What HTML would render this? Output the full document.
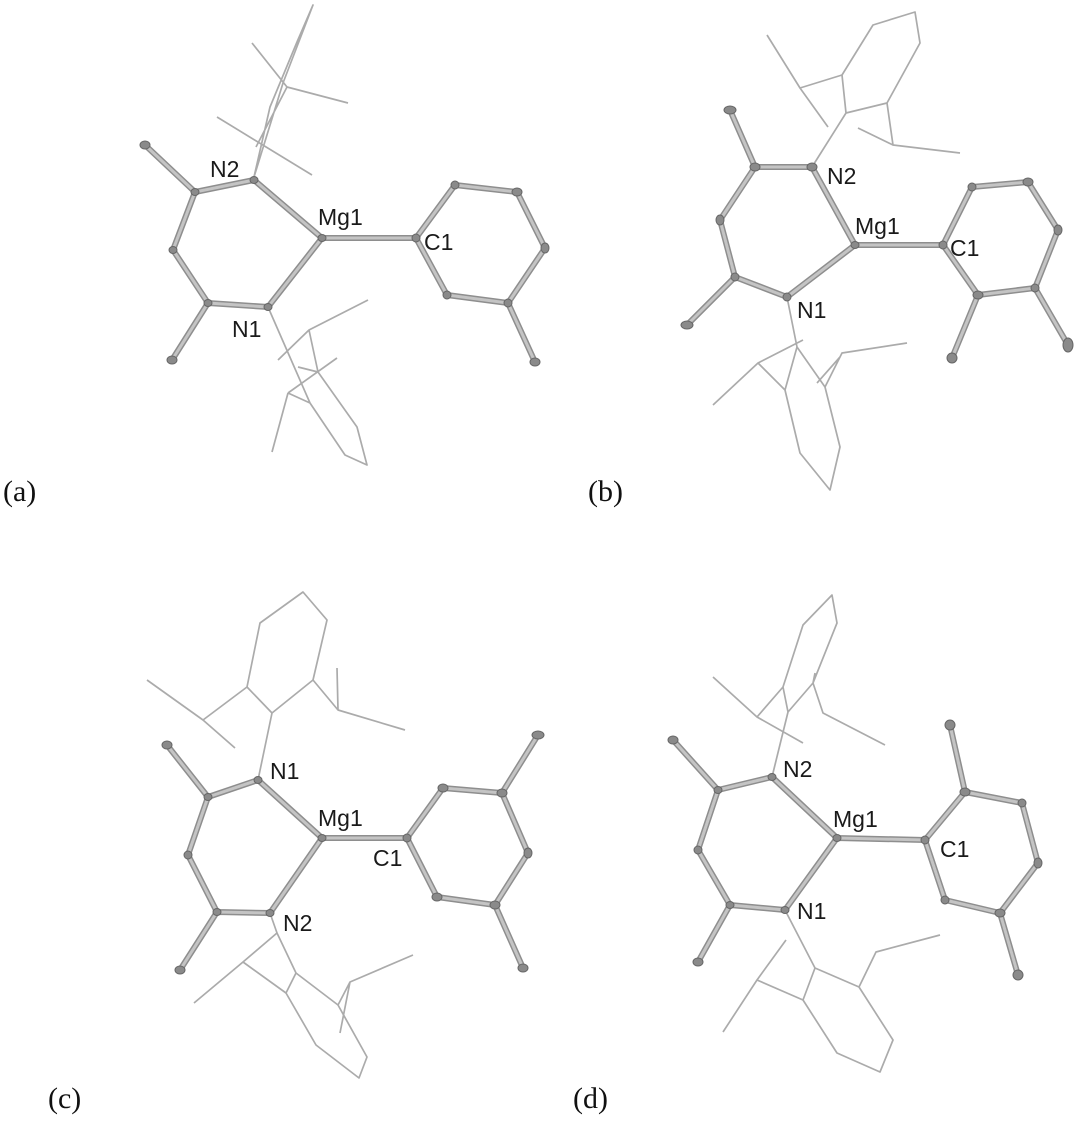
<!DOCTYPE html>
<html><head><meta charset="utf-8"><style>
html,body{margin:0;padding:0;background:#fff;}
svg{display:block;}
.w{fill:none;stroke:#ababab;stroke-width:1.7;stroke-linejoin:round;}
.bo{fill:none;stroke:#8e8e8e;stroke-width:6;stroke-linecap:round;stroke-linejoin:round;}
.bi{fill:none;stroke:#c4c4c4;stroke-width:3;stroke-linecap:round;stroke-linejoin:round;}
.a ellipse{fill:#8a8a8a;stroke:#666;stroke-width:1;}
.lb{font-family:"Liberation Sans",sans-serif;font-size:23px;fill:#1a1a1a;}
.pl{font-family:"Liberation Serif",serif;font-size:30px;fill:#111;}
</style></head><body>
<svg width="1080" height="1121" viewBox="0 0 1080 1121" xmlns="http://www.w3.org/2000/svg">
<defs>
<path id="ba" d="M145,145L195,192L254,180L322,238L268,307L208,303L173,250L195,192M208,303L172,360M322,238L416,238L455,185L517,192L545,248L508,303L447,295L416,238M508,303L535,362"/>
<path id="bb" d="M730,110L755,167L812,167L855,245L787,297L735,277L720,220L755,167M735,277L687,325M855,245L943,245L972,187L1028,182L1058,230L1035,288L978,295L943,245M978,295L952,358M1035,288L1068,345"/>
<path id="bc" d="M167,745L208,797L258,780L322,838L270,913L217,912L188,855L208,797M217,912L180,970M322,838L407,838L443,788L502,793L528,853L495,905L437,897L407,838M502,793L538,735M495,905L523,968"/>
<path id="bd" d="M673,740L718,790L772,777L837,838L785,910L730,905L698,850L718,790M730,905L698,962M837,838L925,840L965,792L1022,803L1038,863L1000,913L945,900L925,840M965,792L950,725M1000,913L1018,975"/>
</defs>
<path class="w" d="M254,177L270,107L297,42L313,5L283,83L254,177M252,43L287,87L348,103M217,117L312,175M256,147L287,87"/>
<path class="w" d="M268,307L310,403M278,360L309,330L368,300M309,330L318,372M298,367L318,372M318,372L357,427L367,465L345,455L310,403M288,393L337,358M288,393L310,403M288,393L272,452"/>
<path class="w" d="M812,167L846,113L842,75L873,25L915,12L920,43L887,103L846,113M842,75L800,88L767,35M800,88L828,127M887,103L893,145L858,128M893,145L960,153"/>
<path class="w" d="M787,297L797,347L785,390L800,453L830,490L840,447L825,387L797,347M803,340L758,363L713,405M758,363L785,390M825,387L842,353L907,343M817,383L840,357"/>
<path class="w" d="M258,780L272,713L247,687L260,623L303,592L327,620L313,680L272,713M247,687L203,720L147,680M203,720L235,748M313,680L338,710L337,668M338,710L405,730"/>
<path class="w" d="M270,913L277,933L243,962L194,1003M243,962L286,993M277,933L296,973L286,993M296,973L338,1005M286,993L316,1045L359,1078L367,1057L338,1005L350,982L413,955M350,982L340,1033"/>
<path class="w" d="M772,777L788,712L783,687L803,625L832,595L837,623L813,683L788,712M783,687L757,717L713,677M757,717L803,743M813,683L815,673M813,683L823,713L885,745"/>
<path class="w" d="M785,910L815,968M786,940L757,980L723,1032M757,980L803,1000M815,968L803,1000M815,968L859,987M803,1000L837,1053L880,1072L893,1040L859,987L876,952L940,935"/>
<use href="#ba" class="bo"/><use href="#ba" class="bi"/>
<use href="#bb" class="bo"/><use href="#bb" class="bi"/>
<use href="#bc" class="bo"/><use href="#bc" class="bi"/>
<use href="#bd" class="bo"/><use href="#bd" class="bi"/>
<g class="a">
<ellipse cx="145" cy="145" rx="5" ry="4"/><ellipse cx="195" cy="192" rx="4" ry="3.5"/><ellipse cx="254" cy="180" rx="4" ry="3.5"/><ellipse cx="322" cy="238" rx="4" ry="3.5"/><ellipse cx="268" cy="307" rx="4" ry="3.5"/><ellipse cx="208" cy="303" rx="4" ry="3.5"/><ellipse cx="173" cy="250" rx="4" ry="3.5"/><ellipse cx="172" cy="360" rx="5" ry="4"/><ellipse cx="416" cy="238" rx="4" ry="4"/><ellipse cx="455" cy="185" rx="4" ry="4"/><ellipse cx="517" cy="192" rx="5" ry="4"/><ellipse cx="545" cy="248" rx="4" ry="5"/><ellipse cx="508" cy="303" rx="4" ry="4"/><ellipse cx="447" cy="295" rx="4" ry="4"/><ellipse cx="535" cy="362" rx="5" ry="4"/>
<ellipse cx="730" cy="110" rx="6" ry="4"/><ellipse cx="755" cy="167" rx="5" ry="4"/><ellipse cx="812" cy="167" rx="5" ry="4"/><ellipse cx="855" cy="245" rx="4" ry="3.5"/><ellipse cx="787" cy="297" rx="4" ry="4"/><ellipse cx="735" cy="277" rx="4" ry="4"/><ellipse cx="720" cy="220" rx="4" ry="5"/><ellipse cx="687" cy="325" rx="6" ry="4"/><ellipse cx="943" cy="245" rx="4" ry="4"/><ellipse cx="972" cy="187" rx="4" ry="4"/><ellipse cx="1028" cy="182" rx="5" ry="4"/><ellipse cx="1058" cy="230" rx="4" ry="5"/><ellipse cx="1035" cy="288" rx="4" ry="4"/><ellipse cx="978" cy="295" rx="5" ry="4"/><ellipse cx="952" cy="358" rx="5" ry="5"/><ellipse cx="1068" cy="345" rx="5" ry="7"/>
<ellipse cx="167" cy="745" rx="5" ry="4"/><ellipse cx="208" cy="797" rx="4" ry="3.5"/><ellipse cx="258" cy="780" rx="4" ry="3.5"/><ellipse cx="322" cy="838" rx="4" ry="3.5"/><ellipse cx="270" cy="913" rx="4" ry="3.5"/><ellipse cx="217" cy="912" rx="4" ry="3.5"/><ellipse cx="188" cy="855" rx="4" ry="4"/><ellipse cx="180" cy="970" rx="5" ry="4"/><ellipse cx="407" cy="838" rx="4" ry="4"/><ellipse cx="443" cy="788" rx="5" ry="4"/><ellipse cx="502" cy="793" rx="5" ry="4"/><ellipse cx="528" cy="853" rx="4" ry="5"/><ellipse cx="495" cy="905" rx="5" ry="4"/><ellipse cx="437" cy="897" rx="5" ry="4"/><ellipse cx="538" cy="735" rx="6" ry="4"/><ellipse cx="523" cy="968" rx="5" ry="4"/>
<ellipse cx="673" cy="740" rx="5" ry="4"/><ellipse cx="718" cy="790" rx="4" ry="3.5"/><ellipse cx="772" cy="777" rx="4" ry="3.5"/><ellipse cx="837" cy="838" rx="4" ry="3.5"/><ellipse cx="785" cy="910" rx="4" ry="3.5"/><ellipse cx="730" cy="905" rx="4" ry="3.5"/><ellipse cx="698" cy="850" rx="4" ry="4"/><ellipse cx="698" cy="962" rx="5" ry="4"/><ellipse cx="925" cy="840" rx="4" ry="4"/><ellipse cx="965" cy="792" rx="5" ry="4"/><ellipse cx="1022" cy="803" rx="4" ry="4"/><ellipse cx="1038" cy="863" rx="4" ry="5"/><ellipse cx="1000" cy="913" rx="5" ry="4"/><ellipse cx="945" cy="900" rx="4" ry="4"/><ellipse cx="950" cy="725" rx="5" ry="5"/><ellipse cx="1018" cy="975" rx="5" ry="5"/>
</g>
<text class="lb" x="210" y="177">N2</text><text class="lb" x="318" y="225">Mg1</text><text class="lb" x="424" y="250">C1</text><text class="lb" x="232" y="337">N1</text>
<text class="lb" x="827" y="184">N2</text><text class="lb" x="855" y="234">Mg1</text><text class="lb" x="950" y="256">C1</text><text class="lb" x="797" y="318">N1</text>
<text class="lb" x="270" y="779">N1</text><text class="lb" x="318" y="826">Mg1</text><text class="lb" x="373" y="866">C1</text><text class="lb" x="283" y="931">N2</text>
<text class="lb" x="783" y="777">N2</text><text class="lb" x="833" y="827">Mg1</text><text class="lb" x="940" y="857">C1</text><text class="lb" x="797" y="919">N1</text>
<text class="pl" x="3" y="501">(a)</text><text class="pl" x="588" y="501">(b)</text>
<text class="pl" x="48" y="1108">(c)</text><text class="pl" x="573" y="1108">(d)</text>
</svg>
</body></html>
